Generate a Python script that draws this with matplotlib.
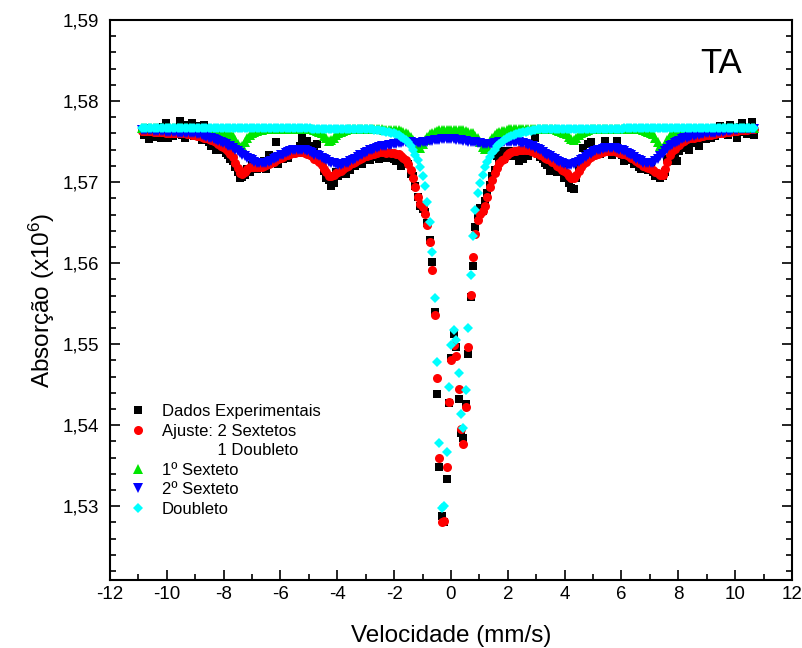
import numpy as np
import matplotlib
matplotlib.use("Agg")
import matplotlib.pyplot as plt
from matplotlib.lines import Line2D
from matplotlib.ticker import MultipleLocator, FuncFormatter

plt.rcParams['font.family'] = ['Liberation Sans', 'DejaVu Sans']
plt.rcParams['mathtext.default'] = 'regular'
plt.rcParams['axes.unicode_minus'] = False

# velocity channels (mm/s), 256 channels
v_start, v_stop, n_chan = -10.89, 10.66, 256
velocity = np.linspace(v_start, v_stop, n_chan)

# experimental data (x10^6 counts)
dados = [
    1.5766, 1.5758, 1.5767, 1.5753, 1.5761, 1.5756, 1.5764, 1.5759, 1.5755, 1.5768, 1.5773, 1.5754, 1.5760, 1.5757, 1.5765, 1.5762,
    1.5775, 1.5758, 1.5754, 1.5771, 1.5762, 1.5773, 1.5757, 1.5763, 1.5769, 1.5752, 1.5771, 1.5755, 1.5749, 1.5745, 1.5748, 1.5740,
    1.5742, 1.5745, 1.5739, 1.5736, 1.5733, 1.5728, 1.5726, 1.5718, 1.5712, 1.5705, 1.5706, 1.5709, 1.5716, 1.5713, 1.5721, 1.5718,
    1.5716, 1.5722, 1.5720, 1.5726, 1.5716, 1.5734, 1.5727, 1.5728, 1.5749, 1.5722, 1.5731, 1.5728, 1.5733, 1.5730, 1.5738, 1.5736,
    1.5740, 1.5736, 1.5744, 1.5755, 1.5739, 1.5751, 1.5738, 1.5744, 1.5742, 1.5747, 1.5730, 1.5724, 1.5714, 1.5705, 1.5702, 1.5695,
    1.5699, 1.5712, 1.5708, 1.5716, 1.5711, 1.5710, 1.5718, 1.5715, 1.5724, 1.5720, 1.5727, 1.5723, 1.5722, 1.5729, 1.5732, 1.5727,
    1.5735, 1.5731, 1.5732, 1.5728, 1.5733, 1.5736, 1.5730, 1.5730, 1.5734, 1.5729, 1.5726, 1.5731, 1.5720, 1.5727, 1.5722, 1.5722,
    1.5710, 1.5707, 1.5695, 1.5681, 1.5670, 1.5667, 1.5663, 1.5650, 1.5628, 1.5601, 1.5540, 1.5438, 1.5349, 1.5288, 1.5281, 1.5334,
    1.5428, 1.5483, 1.5512, 1.5496, 1.5432, 1.5390, 1.5384, 1.5426, 1.5488, 1.5558, 1.5596, 1.5645, 1.5660, 1.5668, 1.5664, 1.5677,
    1.5686, 1.5697, 1.5708, 1.5715, 1.5732, 1.5726, 1.5738, 1.5729, 1.5732, 1.5738, 1.5734, 1.5732, 1.5736, 1.5726, 1.5731, 1.5728,
    1.5734, 1.5732, 1.5737, 1.5741, 1.5755, 1.5735, 1.5731, 1.5729, 1.5724, 1.5721, 1.5714, 1.5717, 1.5721, 1.5713, 1.5716, 1.5720,
    1.5705, 1.5708, 1.5699, 1.5693, 1.5691, 1.5705, 1.5716, 1.5722, 1.5742, 1.5730, 1.5747, 1.5749, 1.5733, 1.5738, 1.5741, 1.5735,
    1.5740, 1.5751, 1.5737, 1.5742, 1.5734, 1.5739, 1.5751, 1.5736, 1.5733, 1.5726, 1.5730, 1.5735, 1.5727, 1.5722, 1.5724, 1.5718,
    1.5716, 1.5719, 1.5721, 1.5715, 1.5718, 1.5713, 1.5707, 1.5710, 1.5705, 1.5707, 1.5712, 1.5728, 1.5726, 1.5733, 1.5728, 1.5726,
    1.5738, 1.5742, 1.5745, 1.5751, 1.5740, 1.5749, 1.5752, 1.5748, 1.5744, 1.5753, 1.5756, 1.5753, 1.5759, 1.5755, 1.5761, 1.5757,
    1.5763, 1.5769, 1.5760, 1.5766, 1.5758, 1.5771, 1.5762, 1.5765, 1.5755, 1.5768, 1.5773, 1.5762, 1.5759, 1.5766, 1.5774, 1.5758,
]

# total fit: 2 sextets + 1 doublet
ajuste = [
    1.5763, 1.5763, 1.5763, 1.5763, 1.5763, 1.5762, 1.5762, 1.5762, 1.5762, 1.5762, 1.5761, 1.5761, 1.5761, 1.5761, 1.5761, 1.5760,
    1.5760, 1.5760, 1.5760, 1.5759, 1.5759, 1.5758, 1.5758, 1.5757, 1.5757, 1.5756, 1.5755, 1.5754, 1.5753, 1.5752, 1.5751, 1.5749,
    1.5747, 1.5745, 1.5743, 1.5741, 1.5738, 1.5735, 1.5731, 1.5724, 1.5717, 1.5711, 1.5710, 1.5713, 1.5716, 1.5719, 1.5719, 1.5719,
    1.5719, 1.5719, 1.5719, 1.5720, 1.5721, 1.5722, 1.5723, 1.5725, 1.5727, 1.5728, 1.5730, 1.5731, 1.5733, 1.5734, 1.5735, 1.5736,
    1.5736, 1.5737, 1.5737, 1.5737, 1.5736, 1.5735, 1.5734, 1.5732, 1.5729, 1.5727, 1.5725, 1.5721, 1.5716, 1.5712, 1.5707, 1.5707,
    1.5709, 1.5711, 1.5713, 1.5714, 1.5716, 1.5718, 1.5720, 1.5722, 1.5723, 1.5725, 1.5727, 1.5729, 1.5730, 1.5732, 1.5732, 1.5734,
    1.5735, 1.5735, 1.5736, 1.5737, 1.5737, 1.5737, 1.5736, 1.5737, 1.5736, 1.5736, 1.5735, 1.5735, 1.5732, 1.5730, 1.5727, 1.5722,
    1.5715, 1.5705, 1.5694, 1.5682, 1.5673, 1.5669, 1.5661, 1.5647, 1.5626, 1.5591, 1.5536, 1.5458, 1.5359, 1.5280, 1.5282, 1.5349,
    1.5429, 1.5481, 1.5499, 1.5486, 1.5445, 1.5395, 1.5377, 1.5423, 1.5497, 1.5561, 1.5607, 1.5636, 1.5653, 1.5661, 1.5664, 1.5671,
    1.5682, 1.5694, 1.5703, 1.5711, 1.5717, 1.5723, 1.5727, 1.5729, 1.5733, 1.5736, 1.5737, 1.5738, 1.5738, 1.5739, 1.5739, 1.5740,
    1.5739, 1.5739, 1.5738, 1.5738, 1.5736, 1.5736, 1.5734, 1.5732, 1.5730, 1.5728, 1.5727, 1.5725, 1.5723, 1.5720, 1.5718, 1.5715,
    1.5714, 1.5711, 1.5708, 1.5705, 1.5705, 1.5709, 1.5714, 1.5718, 1.5722, 1.5725, 1.5728, 1.5731, 1.5733, 1.5734, 1.5735, 1.5736,
    1.5737, 1.5738, 1.5738, 1.5738, 1.5738, 1.5738, 1.5737, 1.5736, 1.5735, 1.5735, 1.5733, 1.5732, 1.5730, 1.5728, 1.5726, 1.5724,
    1.5723, 1.5720, 1.5718, 1.5717, 1.5716, 1.5715, 1.5713, 1.5711, 1.5709, 1.5709, 1.5716, 1.5725, 1.5733, 1.5738, 1.5741, 1.5744,
    1.5746, 1.5749, 1.5751, 1.5753, 1.5754, 1.5755, 1.5755, 1.5756, 1.5756, 1.5757, 1.5757, 1.5758, 1.5758, 1.5758, 1.5759, 1.5759,
    1.5760, 1.5761, 1.5761, 1.5762, 1.5762, 1.5762, 1.5763, 1.5763, 1.5763, 1.5764, 1.5764, 1.5764, 1.5764, 1.5765, 1.5765, 1.5765,
]

# 1st sextet
sexteto1 = [
    1.5767, 1.5767, 1.5767, 1.5767, 1.5767, 1.5767, 1.5767, 1.5767, 1.5767, 1.5767, 1.5767, 1.5767, 1.5767, 1.5767, 1.5767, 1.5767,
    1.5767, 1.5767, 1.5767, 1.5767, 1.5767, 1.5766, 1.5766, 1.5766, 1.5766, 1.5766, 1.5766, 1.5766, 1.5766, 1.5766, 1.5766, 1.5765,
    1.5764, 1.5764, 1.5763, 1.5762, 1.5761, 1.5759, 1.5757, 1.5752, 1.5747, 1.5743, 1.5744, 1.5749, 1.5754, 1.5758, 1.5760, 1.5762,
    1.5763, 1.5764, 1.5764, 1.5765, 1.5765, 1.5765, 1.5765, 1.5765, 1.5765, 1.5765, 1.5765, 1.5765, 1.5765, 1.5765, 1.5765, 1.5765,
    1.5765, 1.5765, 1.5765, 1.5765, 1.5765, 1.5765, 1.5765, 1.5765, 1.5764, 1.5763, 1.5762, 1.5760, 1.5757, 1.5754, 1.5751, 1.5752,
    1.5755, 1.5758, 1.5761, 1.5762, 1.5763, 1.5764, 1.5765, 1.5765, 1.5765, 1.5765, 1.5765, 1.5765, 1.5765, 1.5765, 1.5765, 1.5765,
    1.5765, 1.5765, 1.5765, 1.5765, 1.5765, 1.5764, 1.5764, 1.5764, 1.5764, 1.5764, 1.5764, 1.5764, 1.5763, 1.5762, 1.5761, 1.5759,
    1.5756, 1.5752, 1.5747, 1.5742, 1.5742, 1.5747, 1.5752, 1.5756, 1.5759, 1.5761, 1.5762, 1.5763, 1.5764, 1.5764, 1.5764, 1.5764,
    1.5764, 1.5764, 1.5764, 1.5764, 1.5764, 1.5764, 1.5764, 1.5763, 1.5762, 1.5761, 1.5760, 1.5757, 1.5754, 1.5749, 1.5743, 1.5741,
    1.5745, 1.5751, 1.5755, 1.5758, 1.5760, 1.5762, 1.5763, 1.5763, 1.5764, 1.5765, 1.5765, 1.5765, 1.5765, 1.5765, 1.5765, 1.5765,
    1.5765, 1.5765, 1.5765, 1.5765, 1.5765, 1.5765, 1.5765, 1.5765, 1.5765, 1.5765, 1.5765, 1.5765, 1.5765, 1.5764, 1.5763, 1.5762,
    1.5761, 1.5759, 1.5756, 1.5753, 1.5752, 1.5755, 1.5758, 1.5760, 1.5762, 1.5763, 1.5764, 1.5765, 1.5765, 1.5765, 1.5765, 1.5765,
    1.5765, 1.5765, 1.5765, 1.5765, 1.5765, 1.5765, 1.5765, 1.5765, 1.5765, 1.5765, 1.5765, 1.5765, 1.5765, 1.5765, 1.5765, 1.5765,
    1.5765, 1.5764, 1.5763, 1.5762, 1.5761, 1.5759, 1.5755, 1.5750, 1.5745, 1.5742, 1.5746, 1.5752, 1.5757, 1.5760, 1.5761, 1.5762,
    1.5763, 1.5764, 1.5765, 1.5766, 1.5766, 1.5766, 1.5766, 1.5766, 1.5766, 1.5766, 1.5766, 1.5766, 1.5766, 1.5766, 1.5766, 1.5766,
    1.5766, 1.5767, 1.5767, 1.5767, 1.5767, 1.5767, 1.5767, 1.5767, 1.5767, 1.5767, 1.5767, 1.5767, 1.5767, 1.5767, 1.5767, 1.5767,
]

# 2nd sextet
sexteto2 = [
    1.5764, 1.5764, 1.5764, 1.5764, 1.5764, 1.5763, 1.5763, 1.5763, 1.5763, 1.5763, 1.5762, 1.5762, 1.5762, 1.5762, 1.5762, 1.5761,
    1.5761, 1.5761, 1.5761, 1.5760, 1.5760, 1.5760, 1.5760, 1.5759, 1.5759, 1.5758, 1.5757, 1.5756, 1.5755, 1.5754, 1.5753, 1.5752,
    1.5751, 1.5749, 1.5748, 1.5747, 1.5745, 1.5744, 1.5742, 1.5740, 1.5738, 1.5736, 1.5734, 1.5732, 1.5730, 1.5729, 1.5727, 1.5725,
    1.5724, 1.5723, 1.5723, 1.5723, 1.5724, 1.5725, 1.5726, 1.5728, 1.5730, 1.5731, 1.5733, 1.5734, 1.5736, 1.5737, 1.5738, 1.5739,
    1.5739, 1.5740, 1.5740, 1.5740, 1.5739, 1.5738, 1.5737, 1.5736, 1.5734, 1.5733, 1.5732, 1.5730, 1.5728, 1.5727, 1.5725, 1.5724,
    1.5723, 1.5722, 1.5721, 1.5721, 1.5722, 1.5723, 1.5724, 1.5726, 1.5727, 1.5729, 1.5731, 1.5733, 1.5734, 1.5736, 1.5737, 1.5739,
    1.5740, 1.5741, 1.5742, 1.5743, 1.5744, 1.5745, 1.5745, 1.5746, 1.5746, 1.5747, 1.5747, 1.5748, 1.5748, 1.5749, 1.5749, 1.5749,
    1.5749, 1.5748, 1.5748, 1.5748, 1.5748, 1.5749, 1.5749, 1.5750, 1.5751, 1.5751, 1.5752, 1.5752, 1.5752, 1.5753, 1.5753, 1.5753,
    1.5753, 1.5753, 1.5753, 1.5752, 1.5752, 1.5752, 1.5751, 1.5751, 1.5750, 1.5750, 1.5749, 1.5749, 1.5748, 1.5748, 1.5747, 1.5747,
    1.5747, 1.5747, 1.5747, 1.5748, 1.5748, 1.5749, 1.5749, 1.5749, 1.5750, 1.5750, 1.5750, 1.5750, 1.5749, 1.5749, 1.5748, 1.5748,
    1.5747, 1.5746, 1.5745, 1.5744, 1.5742, 1.5741, 1.5739, 1.5737, 1.5735, 1.5733, 1.5732, 1.5730, 1.5728, 1.5726, 1.5725, 1.5723,
    1.5722, 1.5721, 1.5721, 1.5721, 1.5722, 1.5723, 1.5725, 1.5727, 1.5729, 1.5731, 1.5733, 1.5735, 1.5737, 1.5738, 1.5739, 1.5740,
    1.5741, 1.5742, 1.5742, 1.5742, 1.5742, 1.5742, 1.5741, 1.5740, 1.5739, 1.5738, 1.5736, 1.5735, 1.5733, 1.5731, 1.5729, 1.5727,
    1.5726, 1.5724, 1.5723, 1.5723, 1.5723, 1.5724, 1.5726, 1.5729, 1.5732, 1.5735, 1.5738, 1.5741, 1.5744, 1.5746, 1.5748, 1.5750,
    1.5751, 1.5753, 1.5754, 1.5755, 1.5756, 1.5757, 1.5757, 1.5758, 1.5758, 1.5759, 1.5759, 1.5760, 1.5760, 1.5760, 1.5761, 1.5761,
    1.5762, 1.5762, 1.5762, 1.5763, 1.5763, 1.5763, 1.5764, 1.5764, 1.5764, 1.5765, 1.5765, 1.5765, 1.5765, 1.5766, 1.5766, 1.5766,
]

# doublet
doubleto = [
    1.5767, 1.5767, 1.5767, 1.5767, 1.5767, 1.5767, 1.5767, 1.5767, 1.5767, 1.5767, 1.5767, 1.5767, 1.5767, 1.5767, 1.5767, 1.5767,
    1.5767, 1.5767, 1.5767, 1.5767, 1.5767, 1.5767, 1.5767, 1.5767, 1.5767, 1.5767, 1.5767, 1.5767, 1.5767, 1.5767, 1.5767, 1.5767,
    1.5767, 1.5767, 1.5767, 1.5767, 1.5767, 1.5767, 1.5767, 1.5767, 1.5767, 1.5767, 1.5767, 1.5767, 1.5767, 1.5767, 1.5767, 1.5767,
    1.5767, 1.5767, 1.5767, 1.5767, 1.5767, 1.5767, 1.5767, 1.5767, 1.5767, 1.5767, 1.5767, 1.5767, 1.5767, 1.5767, 1.5767, 1.5767,
    1.5767, 1.5767, 1.5767, 1.5767, 1.5767, 1.5767, 1.5767, 1.5766, 1.5766, 1.5766, 1.5766, 1.5766, 1.5766, 1.5766, 1.5766, 1.5766,
    1.5766, 1.5766, 1.5766, 1.5766, 1.5766, 1.5766, 1.5766, 1.5766, 1.5766, 1.5766, 1.5766, 1.5766, 1.5766, 1.5766, 1.5765, 1.5765,
    1.5765, 1.5764, 1.5764, 1.5764, 1.5763, 1.5763, 1.5762, 1.5762, 1.5761, 1.5760, 1.5759, 1.5758, 1.5756, 1.5754, 1.5752, 1.5749,
    1.5745, 1.5740, 1.5734, 1.5727, 1.5718, 1.5708, 1.5695, 1.5676, 1.5651, 1.5614, 1.5557, 1.5478, 1.5378, 1.5298, 1.5300, 1.5367,
    1.5447, 1.5499, 1.5517, 1.5505, 1.5464, 1.5414, 1.5397, 1.5444, 1.5520, 1.5585, 1.5633, 1.5665, 1.5686, 1.5699, 1.5709, 1.5718,
    1.5725, 1.5731, 1.5736, 1.5740, 1.5744, 1.5747, 1.5750, 1.5752, 1.5754, 1.5756, 1.5757, 1.5758, 1.5759, 1.5760, 1.5761, 1.5762,
    1.5762, 1.5763, 1.5763, 1.5764, 1.5764, 1.5765, 1.5765, 1.5765, 1.5765, 1.5765, 1.5765, 1.5765, 1.5765, 1.5765, 1.5765, 1.5765,
    1.5766, 1.5766, 1.5766, 1.5766, 1.5766, 1.5766, 1.5766, 1.5766, 1.5766, 1.5766, 1.5766, 1.5766, 1.5766, 1.5766, 1.5766, 1.5766,
    1.5766, 1.5766, 1.5766, 1.5766, 1.5766, 1.5766, 1.5766, 1.5766, 1.5766, 1.5767, 1.5767, 1.5767, 1.5767, 1.5767, 1.5767, 1.5767,
    1.5767, 1.5767, 1.5767, 1.5767, 1.5767, 1.5767, 1.5767, 1.5767, 1.5767, 1.5767, 1.5767, 1.5767, 1.5767, 1.5767, 1.5767, 1.5767,
    1.5767, 1.5767, 1.5767, 1.5767, 1.5767, 1.5767, 1.5767, 1.5767, 1.5767, 1.5767, 1.5767, 1.5767, 1.5767, 1.5767, 1.5767, 1.5767,
    1.5767, 1.5767, 1.5767, 1.5767, 1.5767, 1.5767, 1.5767, 1.5767, 1.5767, 1.5767, 1.5767, 1.5767, 1.5767, 1.5767, 1.5767, 1.5767,
]

for s in (dados, ajuste, sexteto1, sexteto2, doubleto):
    assert len(s) == n_chan, len(s)

fig = plt.figure(figsize=(8.03, 6.48), dpi=100)
ax = fig.add_axes([110 / 803, 68 / 648, 682 / 803, 560 / 648])

ax.plot(velocity, dados, 's', color='black', ms=5.5, mew=0)
ax.plot(velocity, ajuste, 'o', color='#ff0000', ms=6.5, mew=0)
ax.plot(velocity, sexteto1, '^', color='#00e600', ms=7, mew=0)
ax.plot(velocity, sexteto2, 'v', color='#0000ff', ms=7, mew=0)
ax.plot(velocity, doubleto, 'D', color='#00ffff', ms=5.5, mew=0)

ax.set_xlim(-12, 12)
ax.set_ylim(1.5209, 1.59)
ax.xaxis.set_major_locator(MultipleLocator(2))
ax.xaxis.set_minor_locator(MultipleLocator(1))
ax.yaxis.set_major_locator(MultipleLocator(0.01))
ax.yaxis.set_minor_locator(MultipleLocator(0.002))
ax.yaxis.set_major_formatter(FuncFormatter(lambda v, p: f"{v:.2f}".replace('.', ',')))
ax.xaxis.set_major_formatter(FuncFormatter(lambda v, p: f"{v:.0f}"))

ax.tick_params(which='both', direction='in', top=False, right=True, width=1.2, labelsize=13.5)
ax.tick_params(which='major', length=7)
ax.tick_params(which='minor', length=4)
ax.tick_params(axis='x', which='major', pad=4)
ax.tick_params(axis='y', which='major', pad=8)
for sp in ax.spines.values():
    sp.set_linewidth(1.5)

ax.set_xlabel('Velocidade (mm/s)', fontsize=17.5, labelpad=16)
ax.set_ylabel('Absorção (x10$^{6}$)', fontsize=17.5, labelpad=4)
ax.text(0.896, 0.923, 'TA', transform=ax.transAxes, fontsize=25, ha='center', va='center')

handles = [
    Line2D([], [], ls='none', marker='s', color='black', ms=5.5, mew=0),
    Line2D([], [], ls='none', marker='o', color='#ff0000', ms=6.5, mew=0),
    Line2D([], [], ls='none', marker=None),
    Line2D([], [], ls='none', marker='^', color='#00e600', ms=7, mew=0),
    Line2D([], [], ls='none', marker='v', color='#0000ff', ms=7, mew=0),
    Line2D([], [], ls='none', marker='D', color='#00ffff', ms=5.5, mew=0),
]
labels = ['Dados Experimentais', 'Ajuste: 2 Sextetos', '            1 Doubleto',
          '1º Sexteto', '2º Sexteto', 'Doubleto']
ax.legend(handles, labels, loc='upper left', bbox_to_anchor=(0.019, 0.326), frameon=False,
          fontsize=12, handlelength=1.0, handletextpad=0.94, labelspacing=0.27,
          borderaxespad=0.0)

fig.savefig('out.png', dpi=100)
